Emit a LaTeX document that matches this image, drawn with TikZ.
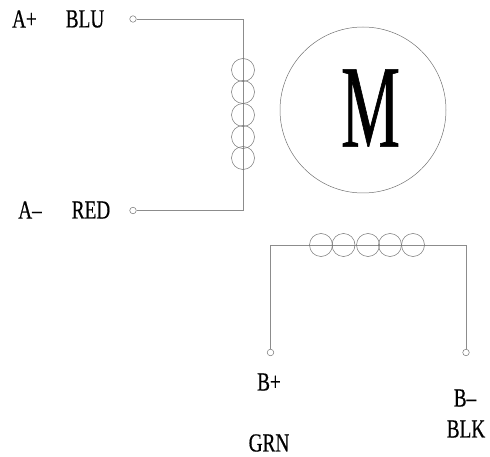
\documentclass[tikz,border=0pt]{standalone}
\usepackage{fontspec}
\setmainfont{Liberation Serif}
\newfontfamily\nar[FakeStretch=0.74,FakeBold=0.5]{Liberation Serif}
\newfontfamily\narm[FakeStretch=0.56,FakeBold=0.5]{Liberation Serif}
\tikzset{
  x=1pt,y=-1pt,
  wire/.style={draw=black!45,line width=0.7pt},
  coilc/.style={circle,draw=black!55,line width=0.5pt,minimum size=23pt,inner sep=0pt},
  term/.style={circle,draw=black!55,line width=0.5pt,minimum size=6.5pt,inner sep=0pt},
  lab/.style={inner sep=0pt,font=\nar\fontsize{26}{26}\selectfont,text=black}
}
\begin{document}
\begin{tikzpicture}
\useasboundingbox (0,0) rectangle (490,457);
\node[term] (ta) at (133,19) {};
\node[term] (tb) at (133,210.5) {};
\node[term] (tc) at (270.5,352.5) {};
\node[term] (td) at (466,352.5) {};
\coordinate (ca) at (243,19);
\coordinate (cb) at (243,210.5);
\coordinate (cc) at (270.5,245);
\coordinate (cd) at (466,245);
\draw[wire] (ta) -- (ca) -- (cb) -- (tb);
\draw[wire] (tc) -- (cc) -- (cd) -- (td);
\foreach \n/\y in {1/70,2/92,3/115,4/137,5/158}
  \node[coilc] (a\n) at (243,\y) {};
\foreach \n/\x in {1/321,2/343.5,3/368,4/390,5/413}
  \node[coilc] (b\n) at (\x,245) {};
\node[circle,draw=black!55,line width=0.5pt,minimum size=166pt,inner sep=0pt] (motor) at (363,110) {};
\node[inner sep=0pt,font=\narm\fontsize{118}{118}\selectfont] (mlab) at (370.5,108) {M};
\node[lab] (l1) at (24.5,19) {A+};
\node[lab] (l2) at (85,19) {BLU};
\node[lab] (l3) at (30,210) {A–};
\node[lab] (l4) at (91,210) {RED};
\node[lab] (l5) at (269,382) {B+};
\node[lab] (l6) at (465,398) {B–};
\node[lab] (l7) at (466,429) {BLK};
\node[lab] (l8) at (269,443) {GRN};
\end{tikzpicture}
\end{document}
